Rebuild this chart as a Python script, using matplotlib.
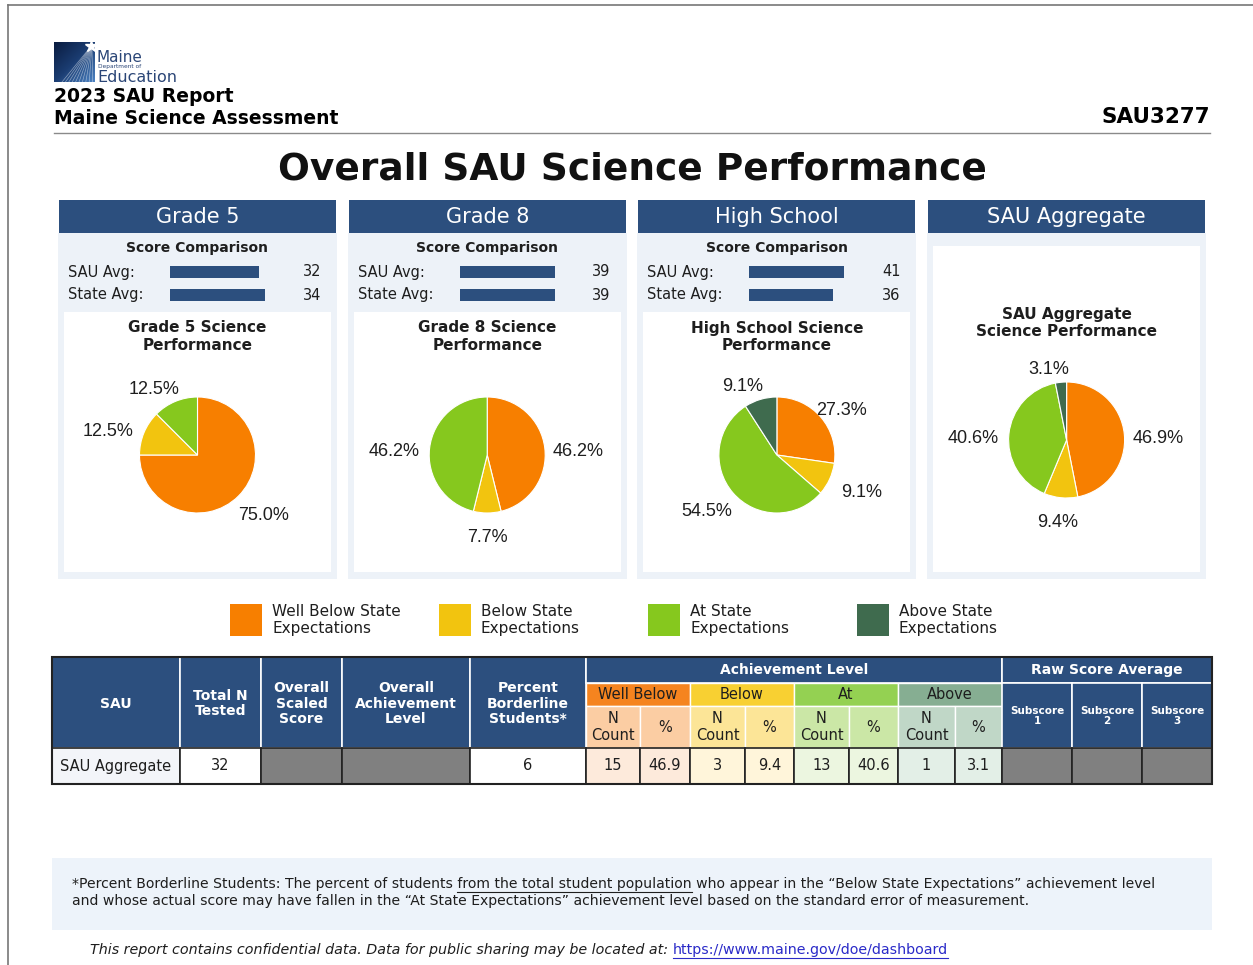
import matplotlib
matplotlib.use("Agg")
import matplotlib.pyplot as plt
from matplotlib.patches import Rectangle
from matplotlib.colors import LinearSegmentedColormap
import numpy as np

W, H = 1253, 965

# ---- report values ----
panel_names = ["Grade 5", "Grade 8", "High School", "SAU Aggregate"]
pie_titles = ["Grade 5 Science\nPerformance", "Grade 8 Science\nPerformance",
              "High School Science\nPerformance", "SAU Aggregate\nScience Performance"]
sau_avg = [32, 39, 41]
state_avg = [34, 39, 36]
level_names = ["Well Below State\nExpectations", "Below State\nExpectations",
               "At State\nExpectations", "Above State\nExpectations"]
level_short = ["Well Below", "Below", "At", "Above"]
g5_pct = [75.0, 12.5, 12.5, 0.0]
g8_pct = [46.2, 7.7, 46.2, 0.0]
hs_pct = [27.3, 9.1, 54.5, 9.1]
agg_pct = [46.9, 9.4, 40.6, 3.1]
agg_counts = [15, 3, 13, 1]
total_tested = 32
borderline = 6
sau_name = "SAU Aggregate"
sau_code = "SAU3277"

# ---- styling ----
navy = "#2C4F7E"
level_colors = ["#F77F00", "#F2C40F", "#86C81E", "#3F6B4E"]
head_colors = ["#F5841F", "#F8D032", "#94D152", "#86AE92"]
sub_colors = ["#FBCDA3", "#FCE597", "#CBE7A6", "#C0D7C7"]
row_colors = ["#FDEADB", "#FFF5DA", "#ECF6E0", "#E3EFE7"]
text_dark = "#1E1E1E"
panel_bg = "#EDF2F8"

fig = plt.figure(figsize=(W / 100, H / 100), dpi=100)
page = fig.add_axes([0, 0, 1, 1])
page.set_xlim(0, W)
page.set_ylim(H, 0)
page.axis("off")


def box(x, y, w, h):
    return [x / W, 1 - (y + h) / H, w / W, h / H]


def rect(x, y, w, h, **kw):
    page.add_patch(Rectangle((x, y), w, h, **kw))


renderer = fig.canvas.get_renderer()


def text_width(s, **kw):
    t = page.text(0, 0, s + "|", **kw)
    t2 = page.text(0, 0, "|", **kw)
    w = t.get_window_extent(renderer).width - t2.get_window_extent(renderer).width
    t.remove()
    t2.remove()
    return w


# page frame
page.plot([8, 8], [5, H], color="#777777", lw=1.2)
page.plot([8, W], [5, 5], color="#777777", lw=1.2)

# logo
logo_cmap = LinearSegmentedColormap.from_list("logo", ["#0A1C40", "#1B3D72", "#4C82C2"])
grad = np.linspace(0, 1, 40)
logo = np.add.outer(grad, grad) / 2
page.imshow(logo, extent=(54, 95, 82, 42), cmap=logo_cmap, aspect="auto", zorder=2)
for k in range(10):
    page.plot([92, 62 + k * 3.4], [45, 82], color="white", lw=0.45, alpha=0.5, zorder=3)
page.plot(91, 46, marker="*", color="white", ms=9, zorder=4)
page.text(97, 57, "Maine", fontsize=11, color="#2B4677", va="center")
page.text(98, 66.5, "Department of", fontsize=4.2, color="#2B4677", va="center")
page.text(97, 77, "Education", fontsize=11.5, color="#2B4677", va="center")
page.set_xlim(0, W)
page.set_ylim(H, 0)

page.text(54, 96, "2023 SAU Report", fontsize=13.5, fontweight="bold", color="black", va="center")
page.text(54, 119, "Maine Science Assessment", fontsize=13.5, fontweight="bold",
          color="black", va="center")
page.text(1210, 117, sau_code, fontsize=15.5, fontweight="bold", color="black",
          ha="right", va="center")
page.plot([54, 1210], [133, 133], color="#8A8A8A", lw=1)

page.text(632, 170, "Overall SAU Science Performance", fontsize=27, fontweight="bold",
          color="#111111", ha="center", va="center")

pies = [g5_pct, g8_pct, hs_pct, agg_pct]
for i, name in enumerate(panel_names):
    L = 59 + i * 289.7
    cx = L + 138.5
    rect(L, 200, 277, 33, fc=navy, ec="none")
    page.text(cx, 217, name, fontsize=15, color="white", ha="center", va="center")
    rect(L - 1, 233, 279, 346, fc=panel_bg, ec="none")
    top = 312 if i < 3 else 246
    rect(L + 5, top, 267, 572 - top, fc="white", ec="none")

    if i < 3:
        page.text(cx, 248, "Score Comparison", fontsize=10, fontweight="bold",
                  color=text_dark, ha="center", va="center")
        page.text(L + 9, 272, "SAU Avg:", fontsize=10.5, color=text_dark, va="center")
        page.text(L + 9, 295, "State Avg:", fontsize=10.5, color=text_dark, va="center")
        page.text(L + 262, 272, str(sau_avg[i]), fontsize=10.5, color=text_dark,
                  ha="right", va="center")
        page.text(L + 262, 295, str(state_avg[i]), fontsize=10.5, color=text_dark,
                  ha="right", va="center")
        bax = fig.add_axes(box(L + 111, 260.5, 95, 46))
        bax.barh([0, 1], [sau_avg[i], state_avg[i]], height=0.52, color=navy)
        bax.set_xlim(0, max(sau_avg[i], state_avg[i]))
        bax.set_ylim(1.5, -0.5)
        bax.axis("off")
        title_y, cy = 337, 455
    else:
        title_y, cy = 323, 440

    page.text(cx, title_y, pie_titles[i], fontsize=11, fontweight="bold", color=text_dark,
              ha="center", va="center", linespacing=1.25)

    r = 58
    pax = fig.add_axes(box(cx - r, cy - r, 2 * r, 2 * r))
    vals = [v for v in pies[i] if v > 0]
    cols = [c for v, c in zip(pies[i], level_colors) if v > 0]
    wedges, texts = pax.pie(vals, colors=cols, startangle=90, counterclock=False,
                            labels=[f"{v:.1f}%" for v in vals],
                            wedgeprops=dict(edgecolor="white", linewidth=0.8),
                            textprops=dict(fontsize=13, family="Liberation Sans",
                                           color=text_dark))
    # slice labels sit a little wider than tall around the pie
    for w, t in zip(wedges, texts):
        mid = np.deg2rad((w.theta1 + w.theta2) / 2)
        c, s = np.cos(mid), np.sin(mid)
        t.set_position((1.6 * c - 0.15 * max(s, 0), 1.33 * s - 0.1))
        t.set_ha("center")
        t.set_va("center")
        t.set_clip_on(False)
    pax.set_xlim(-1, 1)
    pax.set_ylim(-1, 1)
    pax.axis("off")

# legend
for i, lab in enumerate(level_names):
    lx = 230 + i * 209
    rect(lx, 604, 32, 32, fc=level_colors[i], ec="none")
    page.text(lx + 42, 620, lab, fontsize=11, color=text_dark, va="center", linespacing=1.2)

# table
col_x = [52, 180, 261, 342, 470, 586, 640, 690, 745, 794, 849, 898, 955, 1002, 1072, 1142, 1212]
row_y = [657, 683, 706, 748, 784]
hdr = dict(fontsize=10, fontweight="bold", color="white", ha="center", va="center",
           linespacing=1.15)
left_heads = ["SAU", "Total N\nTested", "Overall\nScaled\nScore",
              "Overall\nAchievement\nLevel", "Percent\nBorderline\nStudents*"]
for j, lab in enumerate(left_heads):
    x0, x1 = col_x[j], col_x[j + 1]
    rect(x0, row_y[0], x1 - x0, row_y[3] - row_y[0], fc=navy, ec="white", lw=1.2)
    page.text((x0 + x1) / 2, (row_y[0] + row_y[3]) / 2 + 1, lab, **hdr)

rect(col_x[5], row_y[0], col_x[13] - col_x[5], row_y[1] - row_y[0], fc=navy, ec="white", lw=1.2)
page.text((col_x[5] + col_x[13]) / 2, (row_y[0] + row_y[1]) / 2, "Achievement Level", **hdr)
rect(col_x[13], row_y[0], col_x[16] - col_x[13], row_y[1] - row_y[0], fc=navy, ec="white", lw=1.2)
page.text((col_x[13] + col_x[16]) / 2, (row_y[0] + row_y[1]) / 2, "Raw Score Average", **hdr)

cell = dict(fontsize=10.5, color=text_dark, ha="center", va="center")
for k, lab in enumerate(level_short):
    a, b, c = col_x[5 + 2 * k], col_x[6 + 2 * k], col_x[7 + 2 * k]
    rect(a, row_y[1], c - a, row_y[2] - row_y[1], fc=head_colors[k], ec="white", lw=1)
    page.text((a + c) / 2, (row_y[1] + row_y[2]) / 2, lab, **cell)
    rect(a, row_y[2], b - a, row_y[3] - row_y[2], fc=sub_colors[k], ec="white", lw=1)
    rect(b, row_y[2], c - b, row_y[3] - row_y[2], fc=sub_colors[k], ec="white", lw=1)
    page.text((a + b) / 2, (row_y[2] + row_y[3]) / 2, "N\nCount", linespacing=1.15, **cell)
    page.text((b + c) / 2, (row_y[2] + row_y[3]) / 2, "%", **cell)

for s in range(3):
    x0, x1 = col_x[13 + s], col_x[14 + s]
    rect(x0, row_y[1], x1 - x0, row_y[3] - row_y[1], fc=navy, ec="white", lw=1.2)
    page.text((x0 + x1) / 2, 716, f"Subscore\n{s + 1}", fontsize=7.5, fontweight="bold",
              color="white", ha="center", va="center", linespacing=1.1)

# data row
row_vals = [sau_name, str(total_tested), "", "", str(borderline)]
row_fill = ["#F3F5F9", "white", "#808080", "#808080", "white"]
for k in range(4):
    row_vals += [str(agg_counts[k]), f"{agg_pct[k]:.1f}"]
    row_fill += [row_colors[k], row_colors[k]]
row_vals += ["", "", ""]
row_fill += ["#808080"] * 3
for j, (v, fc) in enumerate(zip(row_vals, row_fill)):
    x0, x1 = col_x[j], col_x[j + 1]
    rect(x0, row_y[3], x1 - x0, row_y[4] - row_y[3], fc=fc, ec="#222222", lw=1.2)
    if v:
        page.text((x0 + x1) / 2, (row_y[3] + row_y[4]) / 2, v, **cell)
rect(col_x[0], row_y[0], col_x[-1] - col_x[0], row_y[4] - row_y[0], fc="none",
     ec="#222222", lw=1.5)

# footnote
rect(52, 858, 1160, 72, fc="#EDF3FA", ec="none")
note_kw = dict(fontsize=10.1, color=text_dark, va="center")
pre = "*Percent Borderline Students: The percent of students "
under = "from the total student population"
post = " who appear in the \u201cBelow State Expectations\u201d achievement level"
page.text(72, 884, pre + under + post, **note_kw)
ux = 72 + text_width(pre, **note_kw)
uw = text_width(under, **note_kw)
page.plot([ux, ux + uw], [891.5, 891.5], color=text_dark, lw=0.8)
page.text(72, 901, "and whose actual score may have fallen in the \u201cAt State Expectations\u201d "
          "achievement level based on the standard error of measurement.", **note_kw)

foot_kw = dict(fontsize=10.3, style="italic", color=text_dark, va="center")
foot = "This report contains confidential data. Data for public sharing may be located at: "
page.text(90, 950, foot, **foot_kw)
lx = 90 + text_width(foot, **foot_kw)
link = "https://www.maine.gov/doe/dashboard"
link_kw = dict(fontsize=10.3, color="#2A2AC8", va="center")
page.text(lx, 950, link, **link_kw)
page.plot([lx, lx + text_width(link, **link_kw)], [957.5, 957.5], color="#2A2AC8", lw=0.8)

fig.savefig("out.png", dpi=100, facecolor="white")
